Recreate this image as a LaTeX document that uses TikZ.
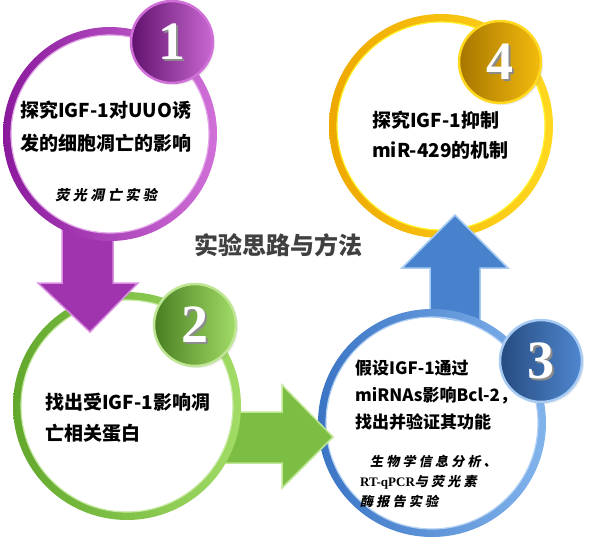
\documentclass[tikz,border=0pt]{standalone}
\usepackage{fontspec}
\setmainfont{Liberation Serif}
\newfontfamily\cjk{Noto Sans CJK SC}
\newfontfamily\cjkkai[FakeSlant=0.2,LetterSpace=25]{Noto Sans CJK SC}
\usepackage{tikz}
\usetikzlibrary{shadows}

\definecolor{purpleA}{HTML}{8A1A9C}
\definecolor{purpleB}{HTML}{D070D8}
\definecolor{greenA}{HTML}{62A82C}
\definecolor{greenB}{HTML}{A2DC66}
\definecolor{blueA}{HTML}{3A74C4}
\definecolor{blueB}{HTML}{82B4EC}
\definecolor{goldA}{HTML}{EEA800}
\definecolor{goldB}{HTML}{FFD820}
\definecolor{titlegray}{HTML}{404040}

\begin{document}
\begin{tikzpicture}[x=1pt,y=-1pt,line join=miter,
  main circle/.style={circle,fill=white,inner sep=0pt,
    drop shadow={opacity=0.08,shadow xshift=2pt,shadow yshift=-3pt}},
  badge/.style={circle,inner sep=0pt,minimum size=82pt,line width=2.5pt,
    drop shadow={opacity=0.15,shadow xshift=2pt,shadow yshift=-2pt}},
  number/.style={font=\bfseries\fontsize{54}{54}\selectfont,text=white,inner sep=0pt},
  main text/.style={font=\cjk\bfseries\fontsize{19}{33}\selectfont,align=left,anchor=west,inner sep=0pt},
  kai text/.style={font=\cjkkai\bfseries\fontsize{13}{20}\selectfont,align=left,anchor=west,inner sep=0pt}]

  \useasboundingbox (0,0) rectangle (600,539);

  % circles
  \node[main circle,minimum size=206pt] (c1) at (110,134) {};
  \node[main circle,minimum size=220pt] (c2) at (127,406) {};
  \node[main circle,minimum size=220pt] (c3) at (432,423) {};
  \node[main circle,minimum size=216pt] (c4) at (441,126) {};

  % rings and arrows, each arrow over the next ring
  \shade[left color=goldA,right color=goldB,even odd rule]
    (c4.center) circle (112pt) (c4.center) circle (104pt);
  \draw[yellow!80,line width=1.2pt] (c4.center) circle (104pt);

  \filldraw[fill=blueA!80!blueB,draw=blueB!70!white,line width=1.5pt]
    (430,316) -- (430,268) -- (402,268) -- (455,215) -- (508,268)
    -- (480,268) -- (480,324) -- cycle;

  \shade[left color=blueA,right color=blueB,even odd rule]
    (c3.center) circle (114pt) (c3.center) circle (106pt);
  \draw[blueB!60!white,line width=1.2pt] (c3.center) circle (106pt);

  \filldraw[fill=greenA!60!greenB,draw=greenB!70!white,line width=1.5pt]
    (236,412) -- (282,412) -- (282,385) -- (333,437) -- (282,488)
    -- (282,463) -- (221,463) -- cycle;

  \shade[left color=greenA,right color=greenB,even odd rule]
    (c2.center) circle (114pt) (c2.center) circle (106pt);
  \draw[greenB!60!white,line width=1.2pt] (c2.center) circle (106pt);

  \filldraw[fill=purpleA!70!purpleB,draw=purpleB!80!white,line width=1.5pt]
    (62,226) -- (62,283) -- (38,283) -- (90,332) -- (138,283)
    -- (113,283) -- (113,236) -- cycle;

  \shade[left color=purpleA,right color=purpleB,even odd rule]
    (c1.center) circle (107pt) (c1.center) circle (99pt);
  \draw[purpleB!60!white,line width=1.2pt] (c1.center) circle (99pt);

  % badges
  \node[badge,left color=purpleA!70!black,right color=purpleB!90!purpleA,draw=purpleB] (b1) at (172,42) {};
  \node[badge,left color=greenA!75!black,right color=greenB,draw=greenB!70!white] (b2) at (195,325) {};
  \node[badge,left color=blueA!65!black,right color=blueA!70!blueB,draw=blueB!70!white] (b3) at (541,361) {};
  \node[badge,left color=goldA!70!black,right color=goldA!60!goldB,draw=goldB] (b4) at (500,62) {};

  \foreach \b/\n in {b1/1,b2/2,b3/3,b4/4}{
    \node[number,text=black!45] at ([shift={(1.5,1.5)}]\b.center) {\n};
    \node[number] at (\b.center) {\n};
  }

  % texts
  \node[main text] (t1) at (20,127) {探究IGF-1对UUO诱\\发的细胞凋亡的影响};
  \node[kai text,anchor=center] (k1) at (106,195) {\fontsize{14}{20}\selectfont 荧光凋亡实验};
  \node[main text,font=\cjk\bfseries\fontsize{19}{31}\selectfont] (t2) at (45,418) {找出受IGF-1影响凋\\亡相关蛋白};
  \node[main text,font=\cjk\bfseries\fontsize{17}{27}\selectfont] (t3) at (355,395) {假设IGF-1通过\\miRNAs影响Bcl-2，\\找出并验证其功能};
  \node[kai text] (k3) at (360,482) {\hspace{10pt}生物学信息分析、\\{\rmfamily\bfseries RT-qPCR}与荧光素\\酶报告实验};
  \node[main text,font=\cjk\bfseries\fontsize{19}{30}\selectfont] (t4) at (372,135) {探究IGF-1抑制\\miR-429的机制};

  \node[font=\cjk\bfseries\fontsize{24}{24}\selectfont,text=titlegray] (title) at (278,245) {实验思路与方法};
\end{tikzpicture}
\end{document}
